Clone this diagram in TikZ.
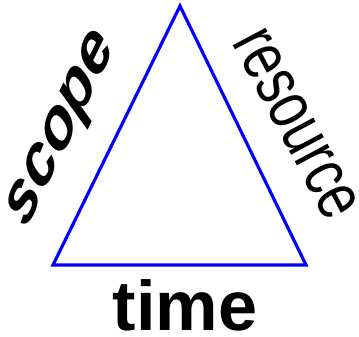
\documentclass[tikz,border=0pt]{standalone}
\usepackage{fontspec}
\setmainfont{Liberation Sans}
\usepackage{tikz}
\usetikzlibrary{positioning}

\begin{document}
\begin{tikzpicture}[
  x=0.02cm, y=-0.02cm,
  side/.style={draw=blue, line width=1.8pt, line join=miter},
  sidelabel/.style={inner sep=0pt, font=\fontsize{40}{40}\selectfont},
]
\useasboundingbox (0,0) rectangle (359,336);

%% --- Triangle corners ---
\coordinate (top)   at (180,  6);
\coordinate (left)  at ( 53,265);
\coordinate (right) at (306,265);

\draw[side] (top) -- (left) -- (right) -- cycle;

%% --- Labels on the three sides ---
\node[sidelabel, font=\fontsize{40}{40}\selectfont\bfseries\itshape,
      rotate=64, yscale=0.82, xslant=0.25] (scope) at (64,131) {scope};
\node[sidelabel, rotate=-62, xscale=0.75] (resource) at (296,124) {resource};
\node[sidelabel, font=\fontsize{40}{40}\selectfont\bfseries, anchor=base] (time) at (185,330) {time};

\end{tikzpicture}
\end{document}
